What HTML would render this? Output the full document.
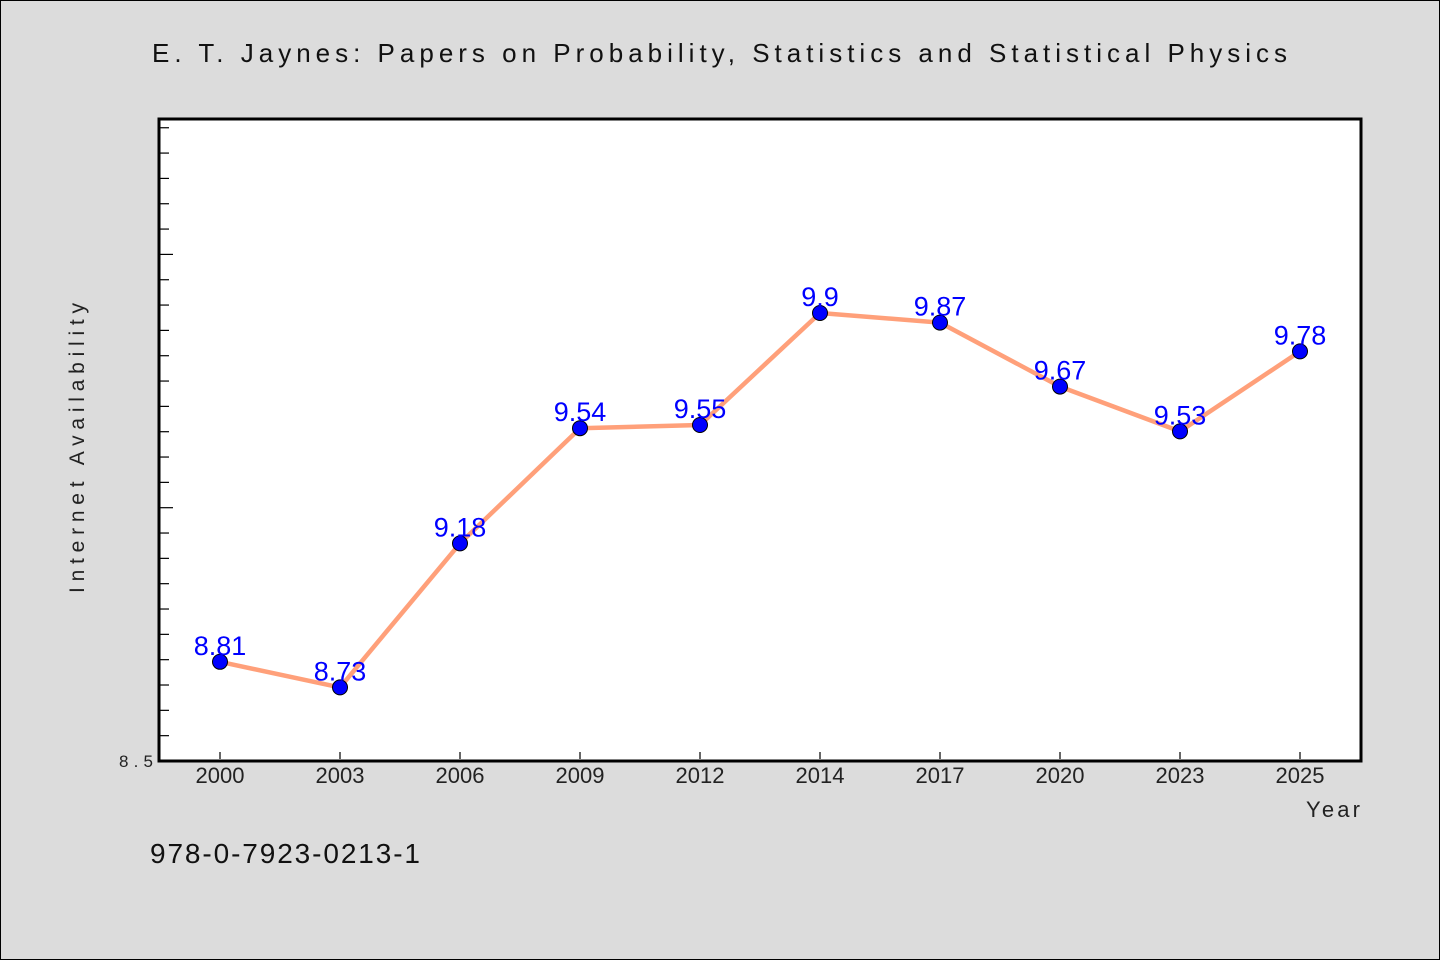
<!DOCTYPE html>
<html><head><meta charset="utf-8"><style>
html,body{margin:0;padding:0;background:#dcdcdc}
svg{display:block}
text{font-family:"WenQuanYi Zen Hei","Liberation Sans",sans-serif}
</style></head><body>
<svg id="chart" width="1440" height="960" viewBox="0 0 1440 960" xmlns="http://www.w3.org/2000/svg">
<rect x="0.5" y="0.5" width="1439" height="959" fill="#dcdcdc" stroke="#000" stroke-width="1"/>
<text x="152" y="62" font-size="26" fill="#111" textLength="1135" lengthAdjust="spacing">E. T. Jaynes: Papers on Probability, Statistics and Statistical Physics</text>
<rect x="159" y="119" width="1202" height="642" fill="#fff" stroke="#000" stroke-width="3"/>
<g id="yticks"></g>
<g id="xaxis"></g>
<text x="153" y="767" font-size="17" fill="#222" text-anchor="end" textLength="34">8.5</text>
<text transform="translate(84,448) rotate(-90)" font-size="21" fill="#222" text-anchor="middle" textLength="290" lengthAdjust="spacing">Internet Availability</text>
<text x="1360" y="817" font-size="22" fill="#222" text-anchor="end" textLength="54" lengthAdjust="spacing">Year</text>
<g id="series"></g>
<text x="150" y="863" font-size="28" fill="#111" textLength="270" lengthAdjust="spacing">978-0-7923-0213-1</text>
</svg>
<script>
const categories = ["2000","2003","2006","2009","2012","2014","2017","2020","2023","2025"];
const values = [8.81,8.73,9.18,9.54,9.55,9.9,9.87,9.67,9.53,9.78];
const labels = ["8.81","8.73","9.18","9.54","9.55","9.9","9.87","9.67","9.53","9.78"];
const NS="http://www.w3.org/2000/svg";
const yMin=8.5, yBottom=761, pxPerUnit=320;
function yScale(v){return yBottom-(v-yMin)*pxPerUnit;}
function xScale(i){return 220+i*120;}
function mk(tag,attrs,parent){const e=document.createElementNS(NS,tag);for(const k in attrs)e.setAttribute(k,attrs[k]);parent.appendChild(e);return e;}
const yt=document.getElementById('yticks');
for(let k=1;k<=25;k++){
  const y=yBottom-k*25.33;
  if(y<121)break;
  const t=mk('line',{x1:160,x2:(k%10===0?173:169),y1:y,y2:y,stroke:'#000','stroke-width':1.2},yt);
  
  
}
const xa=document.getElementById('xaxis');
categories.forEach((c,i)=>{
  const x=xScale(i);
  const t=mk('line',{x1:x,x2:x,y1:752,y2:759,stroke:'#000','stroke-width':1.2},xa);
  
  
  const l=mk('text',{x:x,y:783,'font-size':22,fill:'#222','text-anchor':'middle'},xa);
  l.textContent=c;
  
  
});
const s=document.getElementById('series');
const pts=values.map((v,i)=>xScale(i)+','+yScale(v)).join(' ');
const pl=mk('polyline',{points:pts,fill:'none',stroke:'#ffa07a','stroke-width':4.5,'stroke-linejoin':'round'},s);


values.forEach((v,i)=>{
  const x=xScale(i),y=yScale(v);
  const c=mk('circle',{cx:x,cy:y,r:7.5,fill:'#0000ff',stroke:'#000','stroke-width':1},s);
  
  
  const t=mk('text',{x:x,y:y-7,'font-size':27,fill:'#0000ff','text-anchor':'middle'},s);
  t.textContent=labels[i];
  
  
});
</script>
</body></html>
